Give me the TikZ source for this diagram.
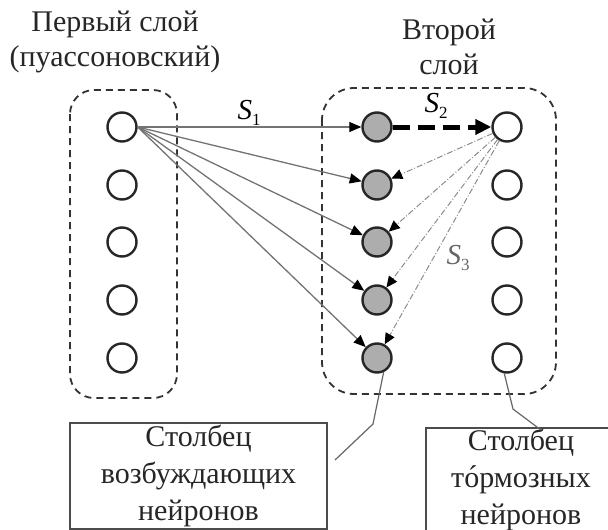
\documentclass[tikz,border=0pt]{standalone}
\usepackage{fontspec}
\setmainfont{Liberation Serif}
\newfontfamily\tmsfont{Liberation Serif}
\usetikzlibrary{arrows.meta}
\newcommand\slab[1]{{\itshape S}\raisebox{-6pt}{\fontsize{17}{17}\selectfont #1}}
\newcommand\accO{\ooalign{о\cr\hidewidth\kern0.08em\raisebox{0.04em}{\char"00B4}\hidewidth\cr}}
\begin{document}
\begin{tikzpicture}[x=1pt,y=-1pt,
  neur/.style={circle,draw=black!85,line width=2.4pt,minimum size=29pt,inner sep=0pt},
  exc/.style={neur,fill=black!32},
  inh/.style={neur,fill=white},
  layerbox/.style={draw=black!80,line width=1.8pt,dash pattern=on 7pt off 5pt,rounded corners=24pt},
  title/.style={align=center,font=\tmsfont\fontsize{30}{35}\selectfont,text=black!85},
  s1arrow/.style={draw=black!55,line width=1.3pt,-{Triangle[length=12pt,width=10pt,color=black]}},
  s2arrow/.style={draw=black,line width=5pt,dash pattern=on 17pt off 8pt,-{Triangle[length=16pt,width=15pt]}},
  s3arrow/.style={draw=black!45,line width=1pt,dash pattern=on 6pt off 2pt on 1pt off 2pt,-{Triangle[length=11pt,width=10pt,color=black]}},
  callout/.style={draw=black!70,line width=1.4pt,align=center,inner sep=0pt,font=\tmsfont\fontsize{30}{37}\selectfont,text=black!85},
  conn/.style={draw=black!60,line width=1.2pt},
  slabel/.style={font=\tmsfont\fontsize{29}{30}\selectfont,inner sep=0pt}
]
\useasboundingbox (0,0) rectangle (608,530);

% titles
\node[title] (t1) at (115,42) {Первый слой\\(пуассоновский)};
\node[title] (t2) at (449,47) {Второй\\слой};

% layer boxes
\draw[layerbox] (70,90) rectangle (177,398);
\draw[layerbox,rounded corners=32pt] (322,88) rectangle (556,394);

% neurons
\foreach \i/\y in {1/127,2/185,3/242,4/300,5/358}{
  \node[inh] (L\i) at (122,\y) {};
  \node[exc] (E\i) at (377,\y) {};
  \node[inh] (I\i) at (507,\y) {};
}

% S1 connections
\foreach \i in {1,...,5}{
  \draw[s1arrow] (L1.east) -- (E\i);
}
\node[slabel] (s1) at (249,113) {\slab{1}};

% S2
\draw[s2arrow] (E1) -- (I1);
\node[slabel] (s2) at (436,106) {\slab{2}};

% S3
\foreach \i in {2,...,5}{
  \draw[s3arrow] (I1) -- (E\i);
}
\node[slabel,text=black!60] (s3) at (458,258) {\slab{3}};

% callout boxes
\node[callout,minimum width=257pt,minimum height=106pt] (b1) at (198.5,476) {Столбец\\возбуждающих\\нейронов};
\node[callout,minimum width=190pt,minimum height=104pt] (b2) at (521,480) {Столбец\\т\accO рмозных\\нейронов};

% callout connectors
\coordinate (c1) at (373,424);
\coordinate (c2) at (335,460);
\coordinate (c3) at (513,409);
\coordinate (c4) at (541,430);
\draw[conn] (E5.-65) -- (c1) -- (c2);
\draw[conn] (I5.-100) -- (c3) -- (c4);
\end{tikzpicture}
\end{document}
